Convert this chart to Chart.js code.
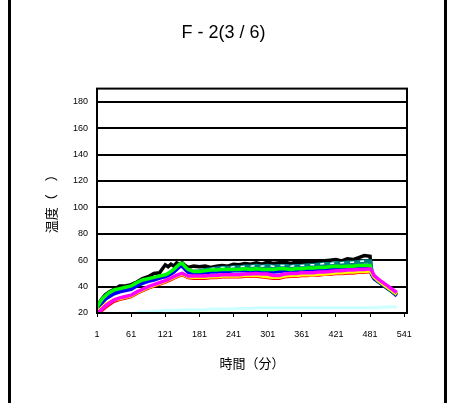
<!DOCTYPE html>
<html>
<head>
<meta charset="utf-8">
<script src="https://cdn.jsdelivr.net/npm/chart.js@4/dist/chart.umd.min.js"></script>
<style>
  html, body { margin: 0; padding: 0; background: #fff; }
  #wrap { position: relative; width: 452px; height: 403px; }
</style>
</head>
<body>
<div id="wrap"><canvas id="chart" width="452" height="403"></canvas></div>
<script>
const xTicks = [1, 61, 121, 181, 241, 301, 361, 421, 481, 541];
const yTicks = [20, 40, 60, 80, 100, 120, 140, 160, 180];

const minutes = [1, 6, 11, 16, 21, 31, 41, 51, 61, 71, 81, 91, 101, 111, 121, 126, 131, 136, 141, 146, 151, 156, 161,
  171, 181, 191, 201, 211, 221, 231, 241, 251, 261, 271, 281, 291, 301, 311, 321, 331, 341, 351, 361,
  371, 381, 391, 401, 411, 421, 431, 441, 451, 461, 471, 481, 484, 488, 496, 504, 512, 520, 528];

const black = [24, 28.5, 31.5, 34, 35.5, 38, 40.5, 40.5, 41.5, 43.5, 46, 47.5, 50, 50.5, 56.5, 55, 57, 55.5, 58, 57, 58, 56, 54.5,
  55.5, 55, 55.5, 54.5, 55.5, 56, 55.5, 57, 56.5, 57.5, 57, 58, 57, 58.5, 57.5, 58, 58.5, 57.5, 58.5, 58,
  58.5, 58.5, 59, 59.5, 60, 60.5, 59.5, 61, 60.5, 62, 63.5, 63, 50, 47, 44, 41.5, 39, 36.5, 34];
const teal = [23, 27, 30, 32, 34, 36.5, 37.5, 38.5, 39.5, 42, 44, 45, 46, 47, 48, 49, 50.5, 52, 54, 56, 56.5, 54, 52,
  51, 51.5, 52.5, 53, 53.5, 54, 54, 54.5, 54.5, 55, 55, 55.5, 55, 55.5, 55, 55.5, 55.5, 55, 55.5, 55.5,
  56, 56, 56.5, 57, 57, 57.5, 57.5, 58, 58, 58.5, 59, 59, 50, 47, 44, 41.5, 39, 36.5, 34];
const white = [null, null, null, null, null, null, null, null, null, null, null, null, null, null, null, null, null, null, null, null, null, null, null,
  null, null, null, 53.5, 54, 54.5, 54.5, 55, 55, 55.5, 55.5, 56, 55.5, 56, 55.5, 56, 56, 55.5, 56, 56,
  56.5, 56.5, 57, 57.5, 57.5, 58, 58, 58.5, 58.5, 59, 59.5, 59.5, null, null, null, null, null, null, null];
const green = [24, 28, 31, 33, 35, 37.5, 38.5, 39.5, 40.5, 43, 45, 46, 47, 48, 49, 50, 51.5, 53, 55, 57, 57.5, 55, 53,
  51.5, 51.5, 52, 52.5, 52.5, 53, 53, 53, 53, 53.5, 53, 53.5, 53, 53, 53, 53.5, 53.5, 53, 53.5, 53.5,
  54, 54, 54.5, 54.5, 55, 55.5, 55, 55.5, 55.5, 56, 56, 56, 50, 47, 44, 41.5, 39, 36.5, 34];
const blue = [22, 25, 28, 30.5, 32, 34.5, 36, 37, 38, 40.5, 42.5, 44, 45, 46.5, 47.5, 48.5, 49.5, 51, 53, 55, 55.5, 53, 51,
  50, 50, 50.5, 51, 51, 51.5, 51.5, 52, 52, 52, 51.5, 52, 51.5, 51.5, 51, 51.5, 52, 52, 52, 52.5,
  52.5, 52.5, 53, 53, 53.5, 53.5, 53.5, 54, 54, 54.5, 54.5, 54.5, 49, 46, 43.5, 41, 38.5, 36, 33];
const magenta = [20.5, 21.5, 23.5, 25.5, 27, 30, 31.5, 32.5, 33.5, 36, 38, 40, 41.5, 43, 44.5, 45.5, 46.5, 47.5, 48.5, 49.5, 50, 49, 48,
  48, 48, 48, 48.5, 48.5, 49, 49, 49, 49, 49.5, 49.5, 50, 49.5, 49.5, 48.5, 48.5, 49.5, 50, 50, 50.5,
  50.5, 50.5, 51, 51, 51.5, 52, 52, 52.5, 52.5, 53, 53, 53.5, 52, 48.5, 45.5, 43, 40.5, 38, 35.5];
const yellow = [21, 22.5, 24.5, 26.5, 28, 30, 31, 32, 33, 35.5, 37.5, 39.5, 41, 42.5, 44, 45, 46, 47, 48, 49, 49.5, 48.5, 47.5,
  47, 47, 47, 47.5, 47.5, 48, 48, 48, 48, 48.5, 48.5, 48.5, 48, 47.5, 47, 47, 48, 48.5, 48.5, 49,
  49, 49, 49.5, 49.5, 50, 50.5, 50.5, 51, 51, 51.5, 51.5, 52, 50.5, 47.5, 44.5, 42, 39.5, 37, 34.5];
const red = [20, 20.5, 22, 24, 25.5, 28.5, 30, 31, 32, 34.5, 36.5, 38.5, 40, 41.5, 43, 44, 45, 46, 47, 48, 48.5, 47.5, 46.5,
  46, 46, 46, 46.5, 46.5, 47, 47, 47, 47, 47.5, 47.5, 47.5, 47, 46.5, 46, 46, 47, 47.5, 47.5, 48,
  48, 48.5, 48.5, 49, 49, 49.5, 49.5, 50, 50, 50.5, 50.5, 51, 50, 47, 44, 41.5, 39, 36.5, 34];
const cyan = [null, null, null, null, null, null, null, null, null, 20.5, 21, 21, 21.5, 21.5, 22, 22, 22, 22, 22, 22, 22.5, 22.5, 22.5,
  22.5, 22.5, 22.5, 23, 23, 23, 23, 23, 23.5, 23.5, 23.5, 24, 24, 24, 24, 24, 24, 24, 24, 24,
  24, 24, 24, 24, 24, 24, 24, 24, 24, 24, 24, 24, 24, 24, 24, 24.5, 24.5, 24.5, 24.5];

function pts(arr) {
  return minutes.map((m, i) => ({ x: m, y: arr[i] }));
}

function series(data, color, order, width, dash) {
  return {
    data: pts(data),
    borderColor: color,
    backgroundColor: color,
    borderWidth: width || 3,
    borderDash: dash || [],
    pointRadius: 0,
    tension: 0,
    spanGaps: false,
    order: order
  };
}

const framePlugin = {
  id: 'frame',
  beforeDraw(chart) {
    const c = chart.ctx;
    c.save();
    c.fillStyle = '#fff';
    c.fillRect(0, 0, chart.width, chart.height);
    c.fillStyle = '#000';
    c.fillRect(8, 0, 3, chart.height);
    c.fillRect(444, 0, 3, chart.height);
    c.restore();
  },
  afterDraw(chart) {
    const a = chart.chartArea;
    const c = chart.ctx;
    c.save();
    c.strokeStyle = '#000';
    c.lineWidth = 2;
    c.strokeRect(a.left, a.top, a.right - a.left, a.bottom - a.top);
    c.restore();
  }
};

new Chart(document.getElementById('chart'), {
  type: 'line',
  data: {
    datasets: [
      series(magenta, '#ff00ff', 1, 3.5),
      series(yellow, '#ffff00', 2, 3.5),
      series(red, '#ff0000', 3, 2.5),
      series(green, '#00ff00', 4, 3.5),
      series(blue, '#0000ff', 5, 3.5),
      series(white, '#ffffff', 6, 1.5, [4, 6]),
      series(teal, '#008080', 7, 4.5),
      series(black, '#000000', 8, 3.5),
      series(cyan, '#ccffff', 9, 3)
    ]
  },
  options: {
    responsive: false,
    animation: false,
    events: [],
    layout: { padding: { left: 40, right: 45, top: 0, bottom: 30 } },
    plugins: {
      legend: { display: false },
      tooltip: { enabled: false },
      title: {
        display: true,
        text: 'F - 2(3 / 6)',
        color: '#000',
        font: { family: 'Liberation Sans', size: 18, weight: 'normal' },
        padding: { top: 22, bottom: 45 }
      }
    },
    scales: {
      x: {
        type: 'linear',
        min: 1,
        max: 546,
        afterBuildTicks(s) { s.ticks = xTicks.map(v => ({ value: v })); },
        afterFit(s) { s.height = 60; },
        grid: { display: true, drawOnChartArea: false, drawTicks: true, tickLength: 4, color: '#000', lineWidth: 1 },
        border: { display: true, color: '#000', width: 2 },
        ticks: {
          autoSkip: false,
          maxRotation: 0,
          padding: 12,
          color: '#000',
          font: { family: 'Liberation Sans', size: 9 }
        },
        title: {
          display: true,
          text: '時間（分）',
          color: '#000',
          font: { family: 'Noto Sans CJK JP', size: 13 },
          padding: { top: 0, bottom: 2 }
        }
      },
      y: {
        type: 'linear',
        min: 20,
        max: 190,
        afterBuildTicks(s) { s.ticks = yTicks.map(v => ({ value: v })); },
        afterFit(s) { s.width = 57; },
        grid: { color: '#000', lineWidth: 2, drawTicks: false },
        border: { display: true, color: '#000', width: 2 },
        ticks: {
          padding: 9,
          color: '#000',
          font: { family: 'Liberation Sans', size: 9 }
        },
        title: {
          display: true,
          text: '温度（　）',
          color: '#000',
          font: { family: 'Noto Sans CJK JP', size: 13 },
          padding: { top: 3, bottom: 0 }
        }
      }
    }
  },
  plugins: [framePlugin]
});
</script>
</body>
</html>
